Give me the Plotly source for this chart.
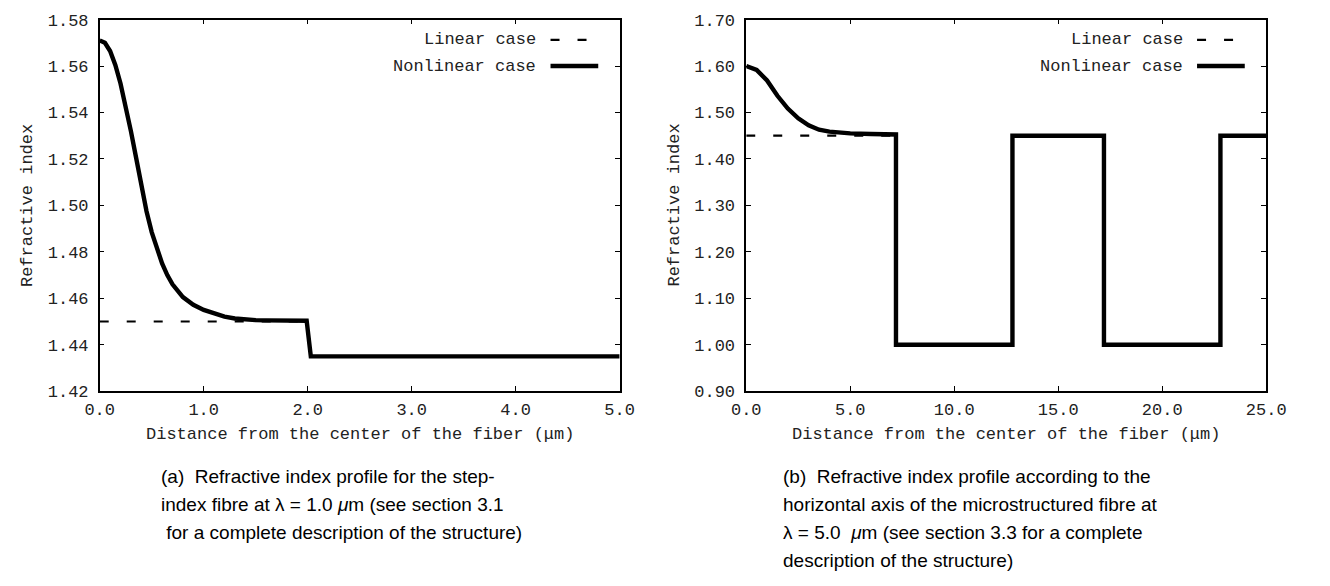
import plotly.graph_objects as go

# ---------------- Data ----------------
# Panel (a): step-index fibre, lambda = 1.0 um
a_lin_x = [0.0, 1.99, 2.03, 5.0]
a_lin_n = [1.45, 1.45, 1.435, 1.435]
a_nl_x = [0.00, 0.05, 0.10, 0.15, 0.20, 0.25, 0.30, 0.35, 0.40, 0.45, 0.50, 0.55,
          0.60, 0.65, 0.70, 0.80, 0.90, 1.00, 1.10, 1.20, 1.30, 1.40, 1.50, 1.60,
          1.80, 1.99, 2.03, 5.00]
a_nl_n = [1.5710, 1.5700, 1.5665, 1.5605, 1.5525, 1.5430, 1.5320, 1.5205, 1.5085,
          1.4975, 1.4885, 1.4810, 1.4750, 1.4700, 1.4660, 1.4605, 1.4572, 1.4550,
          1.4533, 1.4521, 1.4513, 1.4508, 1.4506, 1.4505, 1.4504, 1.4503, 1.4350,
          1.4350]

# Panel (b): microstructured fibre, lambda = 5.0 um
b_lin_x = [0.0, 7.2, 7.2, 12.8, 12.8, 17.2, 17.2, 22.8, 22.8, 25.0]
b_lin_n = [1.45, 1.45, 1.00, 1.00, 1.45, 1.45, 1.00, 1.00, 1.45, 1.45]
b_nl_x = [0.0, 0.5, 1.0, 1.5, 2.0, 2.5, 3.0, 3.5, 4.0, 4.5, 5.0, 6.0, 7.2,
          7.2, 12.8, 12.8, 17.2, 17.2, 22.8, 22.8, 25.0]
b_nl_n = [1.600, 1.5915, 1.5690, 1.5360, 1.5085, 1.4875, 1.4725, 1.4630, 1.4588,
          1.4563, 1.4550, 1.4537, 1.4527, 1.00, 1.00, 1.45, 1.45, 1.00, 1.00,
          1.45, 1.45]

series_names = ["Linear case", "Nonlinear case"]
x_title = "Distance from the center of the fiber (\u03bcm)"
y_title = "Refractive index"
caption_a = ["(a)\u00a0 Refractive index profile for the step-",
             "index fibre at \u03bb = 1.0 <i>\u03bc</i>m (see section 3.1",
             "\u00a0for a complete description of the structure)"]
caption_b = ["(b)\u00a0 Refractive index profile according to the",
             "horizontal axis of the microstructured fibre at",
             "\u03bb = 5.0 \u00a0<i>\u03bc</i>m (see section 3.3 for a complete",
             "description of the structure)"]

# ---------------- Figure ----------------
W, H = 1330, 586
MONO = "Liberation Mono, Courier New, monospace"
SANS = "Liberation Sans, Arial, Helvetica, sans-serif"
DASH = "9px,18px"
THIN, THICK = 2.2, 4.4

fig = go.Figure()
fig.add_trace(go.Scatter(x=a_lin_x, y=a_lin_n, mode="lines", name=series_names[0],
                         line=dict(color="black", width=THIN, dash=DASH), xaxis="x", yaxis="y"))
fig.add_trace(go.Scatter(x=a_nl_x, y=a_nl_n, mode="lines", name=series_names[1],
                         line=dict(color="black", width=THICK), xaxis="x", yaxis="y"))
fig.add_trace(go.Scatter(x=b_lin_x, y=b_lin_n, mode="lines", name=series_names[0],
                         line=dict(color="black", width=THIN, dash=DASH), xaxis="x2", yaxis="y2"))
fig.add_trace(go.Scatter(x=b_nl_x, y=b_nl_n, mode="lines", name=series_names[1],
                         line=dict(color="black", width=THICK), xaxis="x2", yaxis="y2"))

common = dict(showline=True, linecolor="black", linewidth=1.5, mirror="ticks",
              ticks="inside", ticklen=5, tickwidth=1, tickcolor="black",
              showgrid=False, zeroline=False,
              tickfont=dict(family=MONO, size=17, color="#222"))

ydom = [1 - 396 / H, 1 - 12 / H]
fig.update_layout(
    width=W, height=H, autosize=False,
    margin=dict(l=0, r=0, t=0, b=0),
    plot_bgcolor="white", paper_bgcolor="white", showlegend=False,
    xaxis=dict(domain=[87 / W, 621 / W], range=[0, 5], dtick=1, tickformat=".1f",
               anchor="y", ticklabelstandoff=2, **common),
    yaxis=dict(domain=ydom, range=[1.42, 1.58], dtick=0.02, tickformat=".2f",
               anchor="x", ticklabelstandoff=6, **common),
    xaxis2=dict(domain=[751 / W, 1285 / W], range=[0, 25], dtick=5, tickformat=".1f",
                anchor="y2", ticklabelstandoff=2, **common),
    yaxis2=dict(domain=ydom, range=[0.9, 1.7], dtick=0.1, tickformat=".2f",
                anchor="x2", ticklabelstandoff=6, **common),
)

ann = []
shapes = []
# axis titles
for xc, ylab_x in [((87 + 621) / 2, 13), ((751 + 1285) / 2, 677)]:
    ann.append(dict(x=xc / W, y=1 - 441 / H, xref="paper", yref="paper", text=x_title,
                    showarrow=False, xanchor="center", yanchor="middle",
                    font=dict(family=MONO, size=17, color="#222")))
    ann.append(dict(x=ylab_x / W, y=1 - 204 / H, xref="paper", yref="paper", text=y_title,
                    textangle=-90, showarrow=False, xanchor="center", yanchor="middle",
                    font=dict(family=MONO, size=17, color="#222")))

# legends (gnuplot style: text right-aligned, sample to the right)
for text_end, s0, s1 in [(537, 550, 599), (1202, 1214, 1263)]:
    for i, (yy, name) in enumerate([(33, series_names[0]), (60, series_names[1])]):
        ann.append(dict(x=text_end / W, y=1 - yy / H, xref="paper", yref="paper", text=name,
                        showarrow=False, xanchor="right", yanchor="middle",
                        font=dict(family=MONO, size=17, color="#222")))
        shapes.append(dict(type="line", xref="paper", yref="paper",
                           x0=s0 / W, x1=s1 / W, y0=1 - yy / H, y1=1 - yy / H,
                           line=dict(color="black", width=THIN if i == 0 else THICK,
                                     dash=DASH if i == 0 else "solid")))

# captions
for x0, lines in [(148, caption_a), (787, caption_b)]:
    for k, line in enumerate(lines):
        ann.append(dict(x=x0 / W, y=1 - (484 + 29 * k) / H, xref="paper", yref="paper",
                        text=line, showarrow=False, xanchor="left", yanchor="middle",
                        font=dict(family=SANS, size=19, color="black")))

fig.update_layout(annotations=ann, shapes=shapes)
fig.write_html("out.html")
